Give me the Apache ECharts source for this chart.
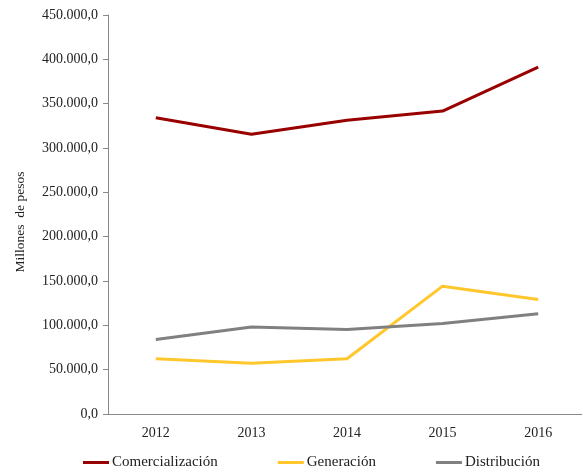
<!DOCTYPE html>
<html><head><meta charset="utf-8">
<script src="https://cdn.jsdelivr.net/npm/echarts@6/dist/echarts.min.js"></script>
<style>html,body{margin:0;padding:0;background:#fff}#c{width:582px;height:472px}</style>
</head><body><div id="c"></div>
<script>
var categories = ['2012','2013','2014','2015','2016'];
var comercializacion = [334200, 315400, 331200, 341600, 391200];
var generacion = [62300, 57100, 62300, 144200, 129200];
var distribucion = [84100, 98000, 95400, 102100, 113000];
var seriesNames = ['Comercialización','Generación','Distribución'];
var colors = ['#990000','#FFC72C','#808080'];

function fmt(v){
  var s = Math.round(v).toString().replace(/\B(?=(\d{3})+(?!\d))/g,'.');
  return s + ',0';
}
var font = 'Liberation Serif';
var chart = echarts.init(document.getElementById('c'));
function mk(name, data, color){
  return {name:name, type:'line', data:data, symbol:'none', smooth:false,
    lineStyle:{color:color, width:3}, itemStyle:{color:color}};
}
chart.setOption({
  animation:false,
  grid:{left:108, top:15, width:478, height:399, containLabel:false, outerBoundsMode:'none'},
  legend:{top:455, left:83, padding:0, itemWidth:26, itemHeight:3, itemGap:60, icon:'rect',
    textStyle:{fontFamily:font, fontSize:15, color:'#222', padding:[0,0,0,-2]},
    data:seriesNames},
  xAxis:{type:'category', data:categories, boundaryGap:true,
    axisLine:{lineStyle:{color:'#888', width:1}},
    axisTick:{length:5, lineStyle:{color:'#888'}},
    axisLabel:{fontFamily:font, fontSize:14, color:'#222', margin:12}},
  yAxis:{type:'value', min:0, max:450000, interval:50000,
    axisLine:{show:true, lineStyle:{color:'#888', width:1}},
    axisTick:{show:true, length:5, lineStyle:{color:'#888'}},
    splitLine:{show:false},
    axisLabel:{fontFamily:font, fontSize:14, color:'#222', margin:10, formatter:fmt}},
  graphic:[{type:'text', x:20, y:222, rotation:Math.PI/2,
    style:{text:'Millones  de pesos', font:'13.5px "Liberation Serif"', fill:'#222',
      align:'center', verticalAlign:'middle'}}],
  series:[mk(seriesNames[0], comercializacion, colors[0]),
          mk(seriesNames[1], generacion, colors[1]),
          mk(seriesNames[2], distribucion, colors[2])]
});
</script></body></html>
